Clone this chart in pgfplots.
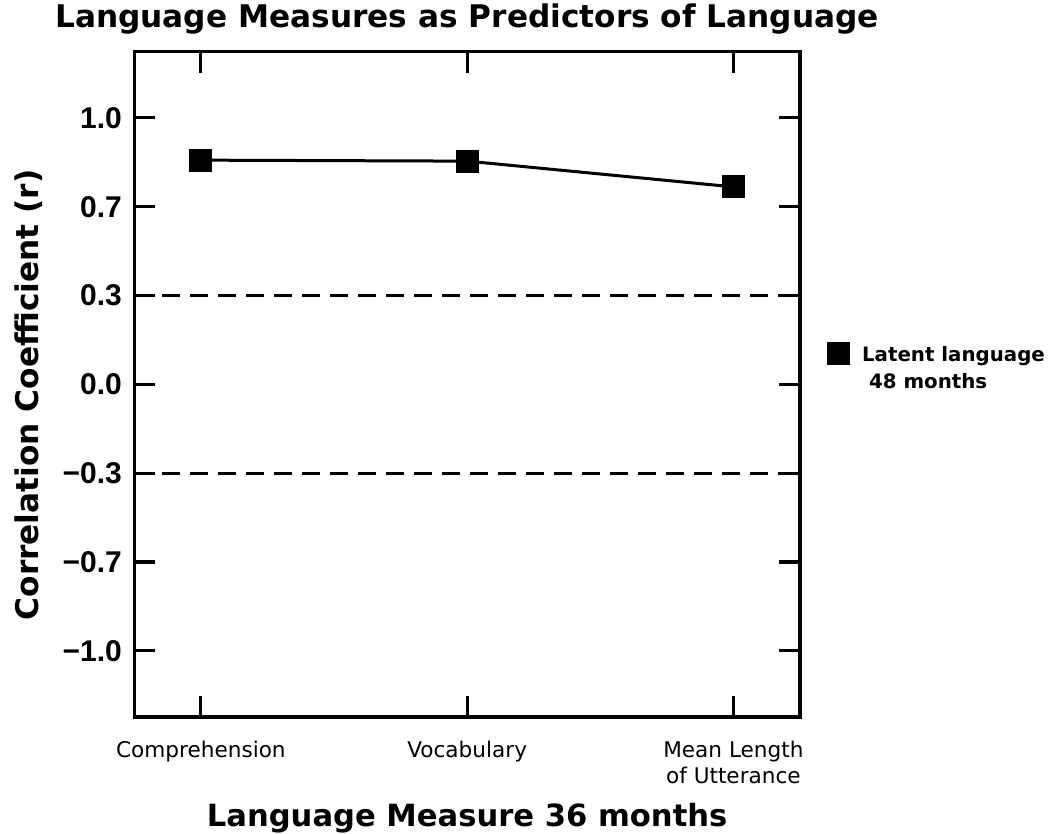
\documentclass[border=0pt]{standalone}
\usepackage{fontspec}
\setmainfont{DejaVu Sans}
\newfontfamily\tickfont{Liberation Sans}
\usepackage{pgfplots}
\pgfplotsset{compat=1.18}

\begin{document}
\begin{tikzpicture}
% 1 px of the reference = 0.5pt
\useasboundingbox (-67.15pt,-58.5pt) rectangle (457.85pt,358.5pt);
\begin{axis}[
  at={(0,0)}, anchor=south west,
  scale only axis,
  width=332.85pt, height=332.65pt,
  xmin=0.75, xmax=3.25,
  ymin=-3.745, ymax=3.745,
  xtick={1,2,3},
  xticklabels={Comprehension, Vocabulary, {Mean Length\\of Utterance}},
  xticklabel style={font=\fontsize{10.8}{13}\selectfont, align=center, anchor=north, inner sep=0pt, yshift=-12pt},
  ytick={-3,-2,-1,0,1,2,3},
  yticklabels={−1.0,−0.7,−0.3,0.0,0.3,0.7,1.0},
  yticklabel style={font=\tickfont\bfseries\fontsize{15}{16}\selectfont, anchor=east, inner sep=0pt, xshift=-6pt},
  major tick length=10.5pt,
  tick style={black, line width=1.6pt},
  axis line style={black, line width=1.6pt},
  clip=false,
  legend style={draw=none, fill=none, inner sep=0pt, at={(axis description cs:1.0416,0.547)}, anchor=west,
    font=\bfseries\fontsize{9.9}{13.5}\selectfont},
  legend cell align=left,
  legend image code/.code={\draw[#1] plot coordinates {(5pt,0pt)};},
]
\addplot[dashed, dash pattern=on 9pt off 5pt, line width=1.4pt, forget plot] coordinates {(0.75,1) (3.25,1)};
\addplot[dashed, dash pattern=on 9pt off 5pt, line width=1.4pt, forget plot] coordinates {(0.75,-1) (3.25,-1)};
\addplot[black, line width=1.5pt, mark=square*, mark size=5pt, mark options={solid, rounded corners=0.8pt}] coordinates {
  (1, 2.524)
  (2, 2.513)
  (3, 2.223)
};
\addlegendentry{\hspace*{5pt}\begin{tabular}[t]{@{}l@{}}Latent language\\\hspace*{3.5pt}48 months\end{tabular}}
\node[anchor=base, font=\bfseries\fontsize{15.6}{18}\selectfont] at ([yshift=12pt]axis description cs:0.5,1) {Language Measures as Predictors of Language};
\node[anchor=base, font=\bfseries\fontsize{15.3}{18}\selectfont] at ([yshift=-54.8pt]axis description cs:0.5,0) {Language Measure 36 months};
\node[anchor=base, rotate=90, font=\bfseries\fontsize{15.6}{18}\selectfont] at ([xshift=-48pt]axis description cs:0,0.484) {Correlation Coefficient (r)};
\end{axis}
\end{tikzpicture}
\end{document}
